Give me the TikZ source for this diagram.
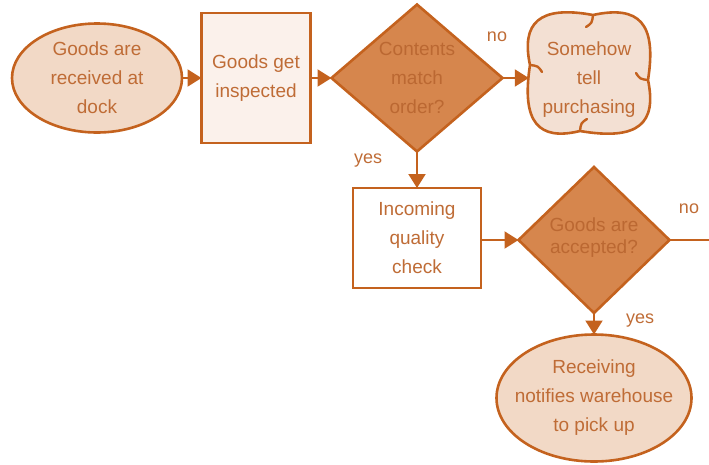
\documentclass[tikz,border=0pt]{standalone}
\usepackage{fontspec}
\setmainfont{Liberation Sans}
\usetikzlibrary{shapes.geometric,arrows.meta}

\definecolor{edge}{HTML}{C4621E}
\definecolor{ink}{HTML}{BF6C36}
\definecolor{termfill}{HTML}{F2D9C6}
\definecolor{boxfill}{HTML}{FBF1EB}
\definecolor{decfill}{HTML}{D6864D}
\definecolor{decink}{HTML}{BB6832}
\definecolor{cloudfill}{HTML}{F3E0D3}

\begin{document}
\begin{tikzpicture}[x=1pt,y=-1pt,
  shapeline/.style={draw=edge,line width=2.6pt},
  term/.style={shapeline,ellipse,fill=termfill,inner sep=0pt,outer sep=0pt},
  proc/.style={shapeline,rectangle,inner sep=0pt,outer sep=0pt},
  dec/.style={shapeline,diamond,fill=decfill,inner sep=0pt,outer sep=0pt},
  txt/.style={text=ink,align=center,font=\fontsize{19}{29}\selectfont,inner sep=0pt},
  dectxt/.style={txt,text=decink},
  lbl/.style={text=ink,font=\fontsize{18}{20}\selectfont,inner sep=0pt},
  flow/.style={draw=edge,line width=2pt,-{Triangle[length=14pt,width=17pt]}},
  curl/.style={draw=edge,line width=2.4pt,line cap=round},
]
\useasboundingbox (0,0) rectangle (709,464);

% start: goods arrive
\node[term,minimum width=170pt,minimum height=109pt] (dock) at (97,78) {};
\node[txt] (docktxt) at (dock) {Goods are\\received at\\dock};

% inspection step
\node[proc,fill=boxfill,minimum width=109pt,minimum height=130pt] (insp) at (256,78) {};
\node[txt] (insptxt) at (insp) {Goods get\\inspected};

% first decision
\node[dec,minimum width=171pt,minimum height=147pt] (match) at (417,78) {};
\node[dectxt] (matchtxt) at (match) {Contents\\match\\order?};

% cloud: purchasing is told somehow
\begin{scope}[shift={(589,73)}]
  \draw[shapeline,fill=cloudfill,line join=round]
    (4,-58) .. controls (50,-68) and (68,-50) .. (59,7)
            .. controls (68,50) and (50,68) .. (-9,58)
            .. controls (-50,68) and (-68,50) .. (-59,-8)
            .. controls (-68,-50) and (-50,-68) .. cycle;
  \draw[curl] (4,-58) .. controls (3,-50) .. (-3,-46);
  \draw[curl] (59,7) .. controls (51,6) .. (47,0);
  \draw[curl] (-9,58) .. controls (-8,50) .. (-2,46);
  \draw[curl] (-59,-8) .. controls (-51,-7) .. (-47,-1);
\end{scope}
\node[txt,minimum width=120pt,minimum height=120pt] (tell) at (589,80) {Somehow\\tell\\purchasing};

% quality check step
\node[proc,fill=white,minimum width=128pt,minimum height=100pt] (qc) at (417,238) {};
\node[txt] (qctxt) at (qc) {Incoming\\quality\\check};

% second decision
\node[dec,minimum width=151pt,minimum height=146pt] (acc) at (594,240) {};
\node[dectxt,font=\fontsize{19}{22}\selectfont] (acctxt) at (594,238) {Goods are\\accepted?};

% end: warehouse notified
\node[term,minimum width=195pt,minimum height=127pt] (notify) at (594,398) {};
\node[txt] (notifytxt) at (notify) {Receiving\\notifies warehouse\\to pick up};

\coordinate (offpage) at (709,240);

% connectors
\draw[flow] (dock.east) -- (dock.east -| insp.west);
\draw[flow] (insp.east) -- (insp.east -| match.west);
\draw[flow] (match.east) -- (match.east -| tell.west);
\draw[flow] (match.south) -- (qc.north);
\draw[flow] (qc.east |- acc.west) -- (acc.west);
\draw[draw=edge,line width=2pt] (acc.east) -- (offpage);
\draw[flow] (acc.south) -- (notify.north);

% branch labels
\node[lbl] (no1) at (497,37) {no};
\node[lbl] (yes1) at (368,161) {yes};
\node[lbl] (no2) at (689,209) {no};
\node[lbl] (yes2) at (640,321) {yes};
\end{tikzpicture}
\end{document}
